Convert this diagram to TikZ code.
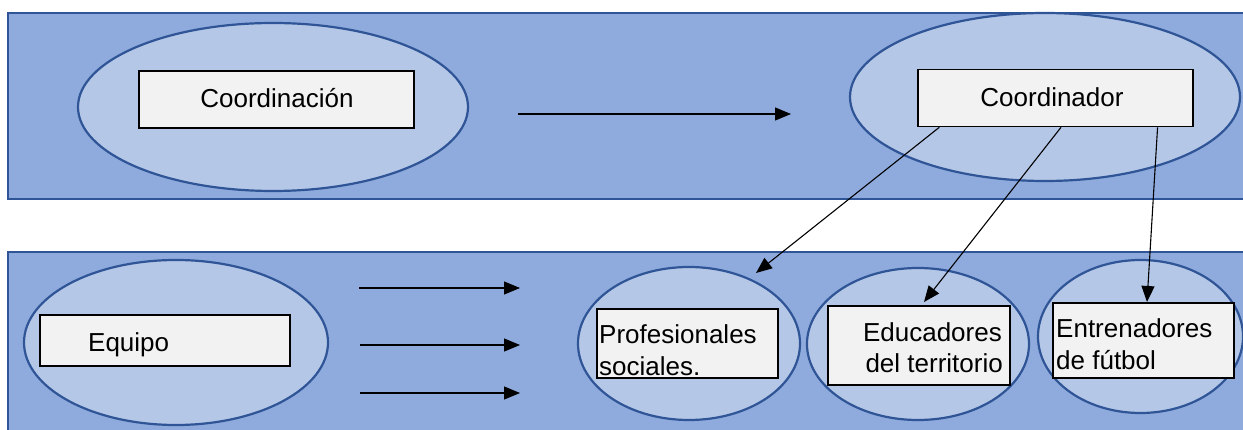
\documentclass[tikz,border=0pt]{standalone}
\usepackage{fontspec}
\setmainfont{Liberation Sans}
\usetikzlibrary{shapes.geometric,arrows.meta,calc}
\definecolor{bandc}{HTML}{8FAADC}
\definecolor{ellc}{HTML}{B4C7E7}
\definecolor{edgec}{HTML}{2F5597}
\definecolor{boxc}{HTML}{F2F2F2}
\begin{document}
\begin{tikzpicture}[x=1pt,y=-1pt,
  bandbox/.style={draw=edgec,line width=2pt,fill=bandc},
  oval/.style={ellipse,draw=edgec,line width=2.2pt,fill=ellc,inner sep=0pt},
  tbox/.style={rectangle,draw=black,line width=1.6pt,fill=boxc,inner sep=0pt},
  lbl/.style={font=\fontsize{26}{34}\selectfont,inner sep=0pt},
  arr/.style={line width=1.1pt,-{Triangle[length=16pt,width=13pt]}}]
\useasboundingbox (0,0) rectangle (1243,430);
\draw[bandbox] (8,13) rectangle (1262,199);
\draw[bandbox] (8,252) rectangle (1262,452);
% ellipses
\node[oval,minimum width=390pt,minimum height=168pt] (e1) at (273,107) {};
\node[oval,minimum width=390pt,minimum height=168pt] (e2) at (1045,97) {};
\node[oval,minimum width=304pt,minimum height=165pt] (e3) at (176,342.5) {};
\node[oval,minimum width=222pt,minimum height=153pt] (e4) at (689,343.5) {};
\node[oval,minimum width=222pt,minimum height=152pt] (e5) at (918,344) {};
\node[oval,minimum width=205pt,minimum height=153pt] (e6) at (1140.5,336.5) {};
% boxes
\node[tbox,minimum width=275pt,minimum height=57pt] (b1) at (276.5,99.5) {};
\node[tbox,minimum width=275pt,minimum height=57pt] (b2) at (1055.5,98) {};
\node[tbox,minimum width=250pt,minimum height=51pt] (b3) at (165,340.5) {};
\node[tbox,minimum width=181pt,minimum height=69pt] (b4) at (687.5,343.5) {};
\node[tbox,minimum width=182pt,minimum height=79pt] (b5) at (919,345.5) {};
\node[tbox,minimum width=181pt,minimum height=75pt] (b6) at (1143.5,340.5) {};
% texts
\node[lbl,anchor=base] (t1) at (277,108) {Coordinación};
\node[lbl,anchor=base] (t2) at (1052,107) {Coordinador};
\node[lbl,anchor=base west] (t3) at (88,352) {Equipo};
\node[lbl,anchor=base west] (t4a) at (599,344) {Profesionales};
\node[lbl,anchor=base west] (t4b) at (599,376) {sociales.};
\node[lbl,anchor=base east] (t5a) at (1002,342) {Educadores};
\node[lbl,anchor=base east] (t5b) at (1003,373) {del territorio};
\node[lbl,anchor=base west] (t6a) at (1056,338) {Entrenadores};
\node[lbl,anchor=base west] (t6b) at (1056,370) {de fútbol};
% free arrow ends
\coordinate (a0s) at (518,114);
\coordinate (a0e) at (791,114);
\coordinate (a1s) at (359,288);
\coordinate (a1e) at (520,288);
\coordinate (a2s) at (360,345);
\coordinate (a2e) at (520,345);
\coordinate (a3s) at (360,393);
\coordinate (a3e) at (520,393);
\coordinate (p1) at (756,273);
\coordinate (p2) at (924,302);
\coordinate (p3) at (1147,302);
\draw[arr] (a0s) -- (a0e);
\draw[arr] (a1s) -- (a1e);
\draw[arr] (a2s) -- (a2e);
\draw[arr] (a3s) -- (a3e);
\draw[arr] ($(b2.south west)!0.08!(b2.south east)$) -- (p1);
\draw[arr] ($(b2.south west)!0.52!(b2.south east)$) -- (p2);
\draw[arr] ($(b2.south west)!0.869!(b2.south east)$) -- (p3);
\end{tikzpicture}
\end{document}
